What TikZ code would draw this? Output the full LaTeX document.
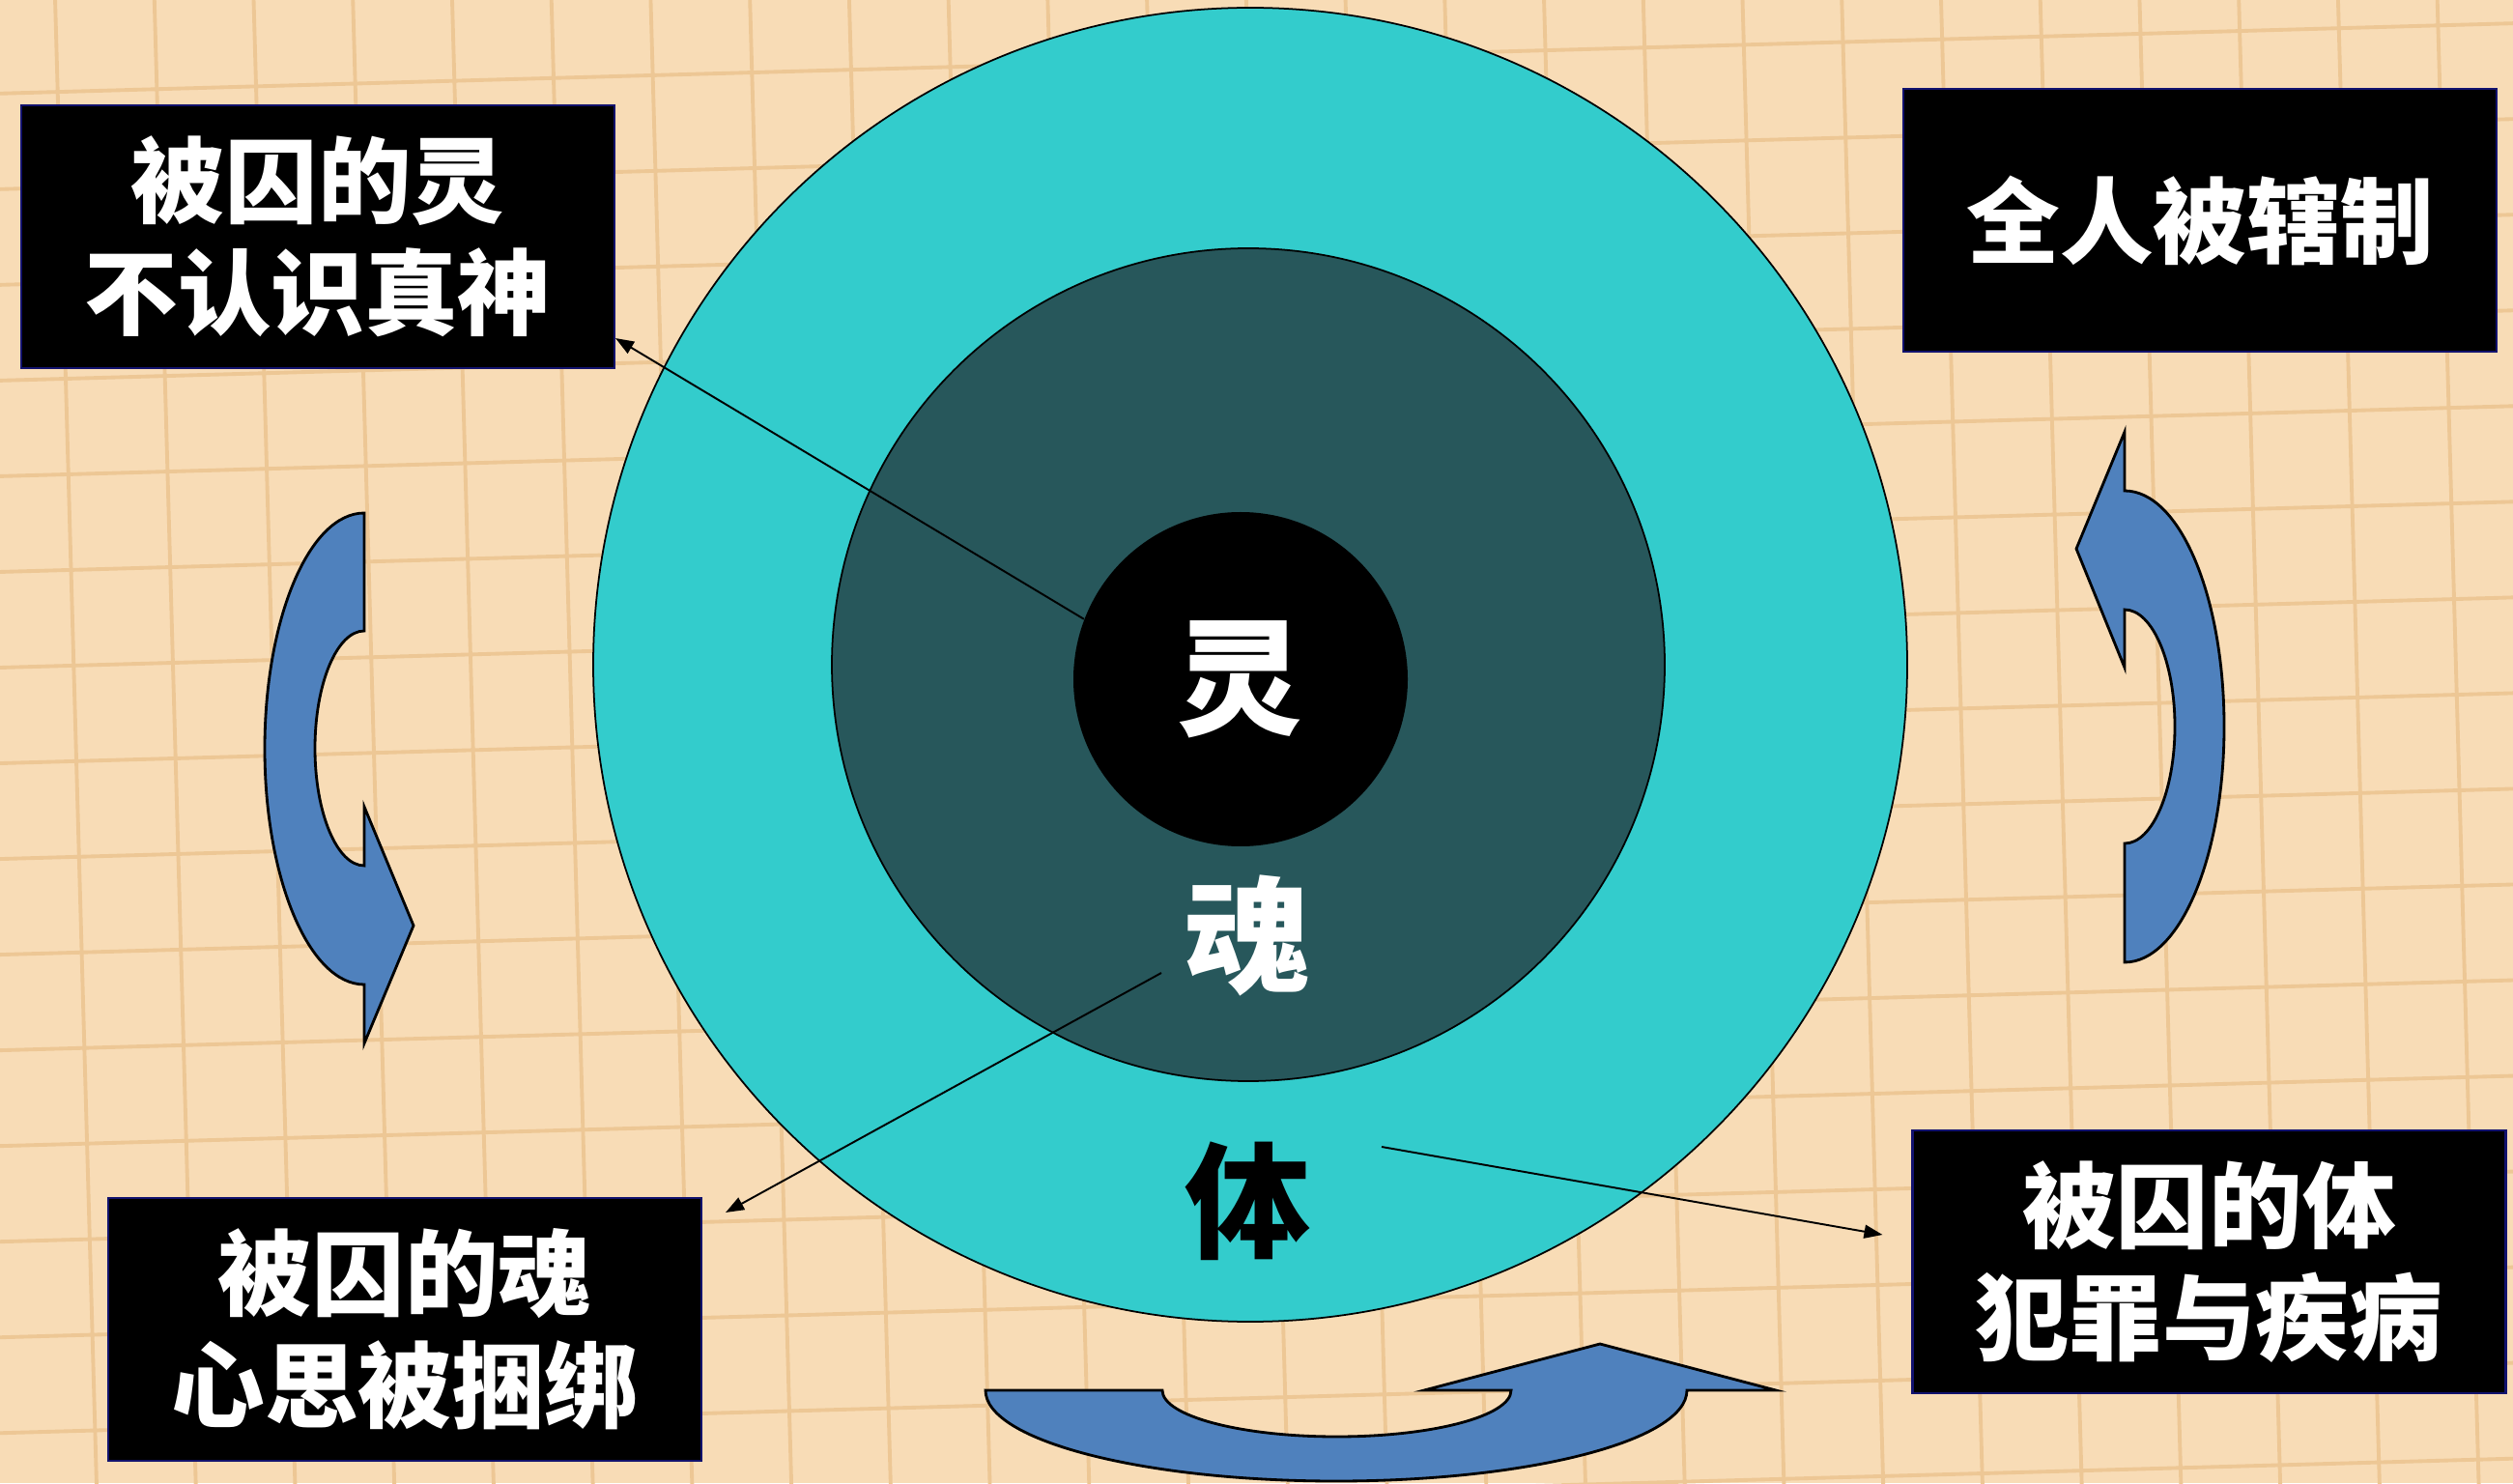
\documentclass[tikz,border=0pt]{standalone}
\usepackage{fontspec}
\newfontfamily\cjk{Noto Sans CJK SC}
\usetikzlibrary{arrows.meta}

\definecolor{paper}{HTML}{F8DCB6}
\definecolor{gridtan}{HTML}{EDC795}
\definecolor{bodyteal}{HTML}{33CCCC}
\definecolor{souldark}{HTML}{27575B}
\definecolor{arrowblue}{HTML}{4F81BD}
\definecolor{boxedge}{HTML}{12126E}

\tikzset{
  labelbox/.style={draw=boxedge, line width=0.6pt, fill=black, text=white, align=center,
    minimum width=6.14cm, minimum height=2.72cm, inner sep=0pt,
    font=\cjk\bfseries\fontsize{27.5}{33}\selectfont},
  bigchar/.style={inner sep=0pt, font=\cjk\bfseries\fontsize{37}{40}\selectfont},
  link/.style={line width=0.55pt, -{Triangle[length=1.9mm,width=1.4mm]}},
  turn/.style={fill=arrowblue, draw=black, line width=0.8pt, line join=miter}
}

\begin{document}
\begin{tikzpicture}
\useasboundingbox (0,0) rectangle (26.01,15.35);
% paper
\fill[paper] (0,0) rectangle (26.01,15.35);
\begin{scope}
\clip (0,0) rectangle (26.01,15.35);
\draw[gridtan, line width=1.1pt, shift={(0.68,11.43)}, rotate=1.6, xstep=1.027, ystep=0.99] (-15,-13) grid (27,6);
\end{scope}

% rings
\node[circle, draw, line width=0.5pt, fill=bodyteal, minimum size=13.6cm, inner sep=0pt] (body) at (12.94,8.47) {};
\node[circle, draw, line width=0.5pt, fill=souldark, minimum size=8.62cm, inner sep=0pt] (soul) at (12.92,8.47) {};
\node[circle, fill=black, minimum size=3.46cm, inner sep=0pt] (spirit) at (12.84,8.32) {};
\node[bigchar, text=white] (ling) at (12.84,8.32) {灵};
\node[bigchar, text=white] (hun)  at (12.92,5.67) {魂};
\node[bigchar, text=black] (ti)   at (12.92,2.92) {体};

% boxes
\node[labelbox] (boxspirit) at (3.29,12.90)  {被囚的灵\\不认识真神};
\node[labelbox] (boxwhole)  at (22.77,13.07) {全人被辖制};
\node[labelbox] (boxsoul)   at (4.19,1.59)   {被囚的魂\\心思被捆绑};
\node[labelbox] (boxbody)   at (22.865,2.29) {被囚的体\\犯罪与疾病};

% pointers
\coordinate (soulfrom) at (12.02,5.28);
\coordinate (bodyfrom) at (14.30,3.48);
\draw[link] (spirit.159) -- ([yshift=3.2mm]boxspirit.south east);
\draw[link] (soulfrom) -- ([shift={(0.24,-0.16)}]boxsoul.north east);
\draw[link] (bodyfrom) -- ([shift={(-0.30,0.28)}]boxbody.west);

% curved arrows
\draw[turn] (3.77,10.04) arc[start angle=90, end angle=270, x radius=1.03, y radius=2.44]
  -- (3.77,4.55) -- (4.28,5.77) -- (3.77,7.00) -- (3.77,6.39)
  arc[start angle=270, end angle=90, x radius=0.51, y radius=1.215] -- cycle;
\draw[turn] (21.99,5.39) arc[start angle=-90, end angle=90, x radius=1.03, y radius=2.44]
  -- (21.99,10.88) -- (21.49,9.67) -- (21.99,8.44) -- (21.99,9.04)
  arc[start angle=90, end angle=-90, x radius=0.52, y radius=1.21] -- cycle;
\draw[turn] (10.20,0.96) arc[start angle=180, end angle=360, x radius=3.63, y radius=0.94]
  -- (18.38,0.96) -- (16.56,1.44) -- (14.74,0.96) -- (15.64,0.96)
  arc[start angle=0, end angle=-180, x radius=1.805, y radius=0.48] -- cycle;
\end{tikzpicture}
\end{document}
